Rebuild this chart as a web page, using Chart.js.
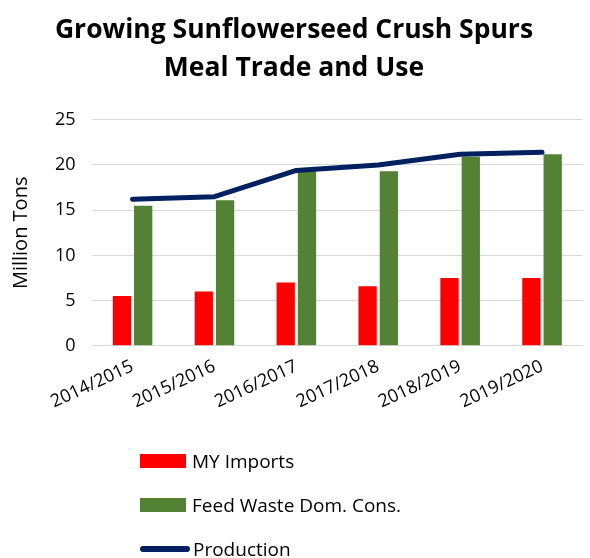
<!DOCTYPE html>
<html lang="en">
<head>
    <meta charset="UTF-8">
    <title>Growing Sunflowerseed Crush Spurs Meal Trade and Use</title>
    <script src="https://cdn.jsdelivr.net/npm/chart.js@4.4.1/dist/chart.umd.min.js"></script>
    <style>
        html, body { margin: 0; padding: 0; background: #fff; }
        .wrap { position: relative; width: 590px; height: 558px; overflow: hidden; }
        .wrap canvas { position: absolute; left: 0; top: 0; }
        #legend { position: absolute; left: 140px; top: 439px; font-family: 'Open Sans', sans-serif; font-size: 19px; color: #000; }
        .lg-item { display: flex; align-items: center; height: 44px; }
        .lg-box { width: 46px; height: 14px; margin-right: 6px; }
        .lg-line { width: 50px; height: 6px; border-radius: 3px; margin-right: 3px; }
    </style>
</head>
<body>
    <div class="wrap">
        <canvas id="chart" width="590" height="558"></canvas>
        <div id="legend"></div>
    </div>
    <script>
        // data
        const seasons = ['2014/2015','2015/2016','2016/2017','2017/2018','2018/2019','2019/2020'];
        const myImports = [5.5, 6.0, 7.0, 6.6, 7.5, 7.5];
        const feedWaste = [15.5, 16.1, 19.3, 19.3, 20.9, 21.2];
        const production = [16.2, 16.5, 19.4, 20.0, 21.2, 21.4];
        const yTicks = [0, 5, 10, 15, 20, 25];

        const chart = new Chart(document.getElementById('chart').getContext('2d'), {
            type: 'bar',
            data: {
                labels: seasons,
                datasets: [
                    { label: 'MY Imports', data: myImports, backgroundColor: '#ff0000', order: 1,
                      categoryPercentage: 0.52, barPercentage: 0.86 },
                    { label: 'Feed Waste Dom. Cons.', data: feedWaste, backgroundColor: '#548235', order: 1,
                      categoryPercentage: 0.52, barPercentage: 0.86 },
                    { label: 'Production', data: production, type: 'line', borderColor: '#002060',
                      backgroundColor: '#002060', borderWidth: 5, pointRadius: 0, tension: 0,
                      borderCapStyle: 'round', borderJoinStyle: 'round', order: 0 }
                ]
            },
            options: {
                responsive: false,
                animation: false,
                layout: { padding: { left: 5, right: 7, top: 6, bottom: 143 } },
                plugins: {
                    legend: { display: false },
                    tooltip: { enabled: false },
                    title: {
                        display: true,
                        text: ['Growing Sunflowerseed Crush Spurs', 'Meal Trade and Use'],
                        color: '#000',
                        font: { family: 'Open Sans', size: 26.5, weight: 'bold', lineHeight: 1.43 },
                        padding: { top: 6, bottom: 32 }
                    }
                },
                scales: {
                    x: {
                        grid: { display: false },
                        border: { display: false },
                        ticks: { color: '#000', font: { family: 'Open Sans', size: 18 }, minRotation: 25, maxRotation: 25, padding: 2 }
                    },
                    y: {
                        min: 0, max: 25,
                        afterBuildTicks: axis => { axis.ticks = yTicks.map(v => ({ value: v })); },
                        grid: { color: '#d9d9d9', lineWidth: 1, drawTicks: false },
                        border: { display: false },
                        ticks: { color: '#000', font: { family: 'Open Sans', size: 18 }, padding: 16 },
                        title: { display: true, text: 'Million Tons', color: '#000', font: { family: 'Open Sans', size: 20 }, padding: { bottom: 6 } }
                    }
                }
            }
        });

        // legend listed vertically, in dataset order
        const legendEl = document.getElementById('legend');
        chart.data.datasets.forEach(ds => {
            const item = document.createElement('div');
            item.className = 'lg-item';
            const sw = document.createElement('div');
            sw.className = ds.type === 'line' ? 'lg-line' : 'lg-box';
            sw.style.background = ds.type === 'line' ? ds.borderColor : ds.backgroundColor;
            const txt = document.createElement('span');
            txt.textContent = ds.label;
            item.appendChild(sw);
            item.appendChild(txt);
            legendEl.appendChild(item);
        });
    </script>
</body>
</html>
